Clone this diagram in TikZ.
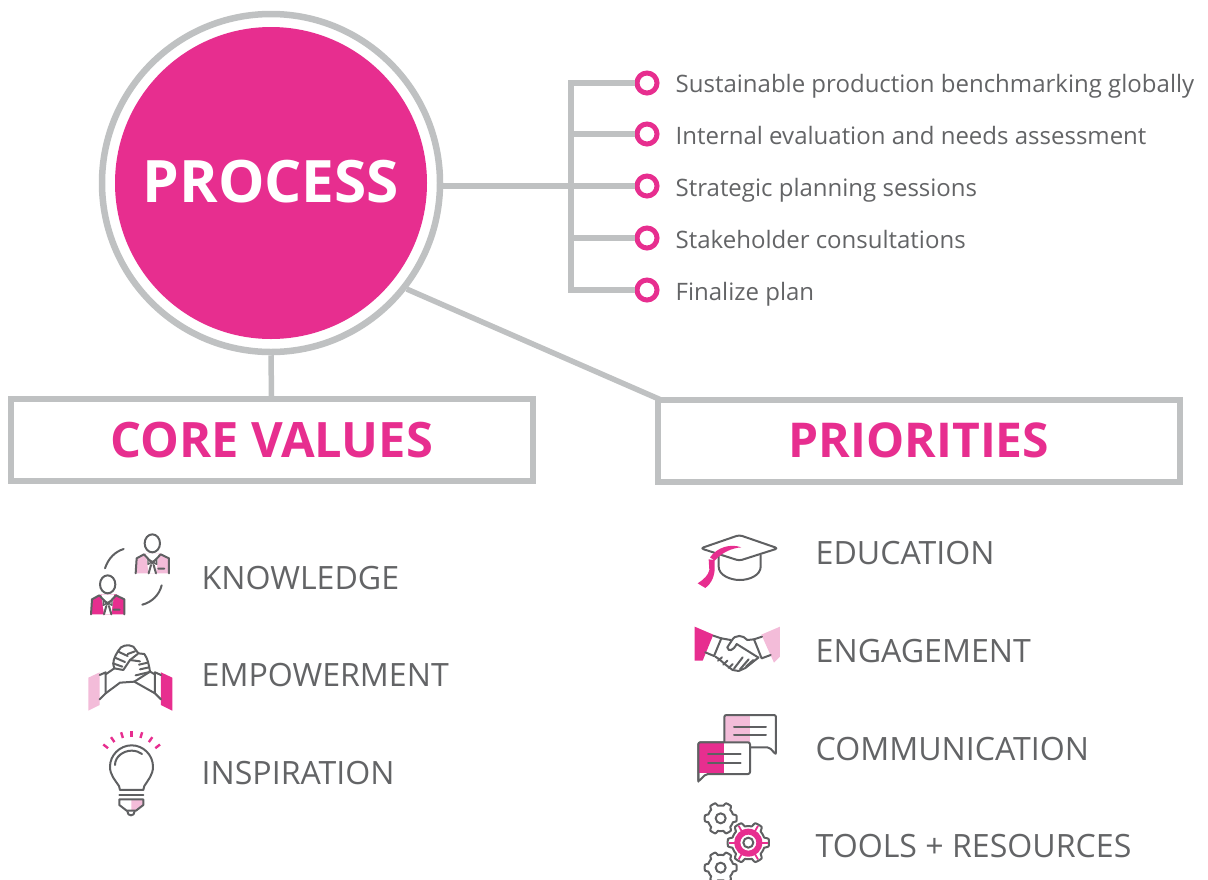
\documentclass[tikz,border=0pt]{standalone}
\usepackage{fontspec}
\usepackage{xcolor}
\setmainfont{Open Sans}
\usetikzlibrary{calc}
\definecolor{procpink}{HTML}{E72E8F}
\definecolor{softpink}{HTML}{F3BCD9}
\definecolor{linegray}{HTML}{BFC1C2}
\definecolor{textgray}{HTML}{636466}
\definecolor{icongray}{HTML}{5F6062}
\pgfmathdeclarefunction{gearrad}{1}{\pgfmathparse{0.8+0.2*min(1,max(0,1.4*cos(6*#1)+0.4))}}
\tikzset{
  link/.style={linegray,line width=5.5pt},
  dotmark/.style={circle,draw=procpink,line width=5pt,fill=white,minimum size=20pt,inner sep=0pt},
  stepname/.style={anchor=base west,text=textgray,inner sep=0pt,font=\fontsize{24}{28}\selectfont},
  valuename/.style={anchor=base west,text=textgray,inner sep=0pt,font=\fontsize{32.1}{38}\selectfont},
  headbox/.style={draw=linegray,line width=6pt,fill=white,text=procpink,minimum width=522pt,minimum height=82pt,inner sep=0pt,font=\fontsize{48}{56}\selectfont\bfseries},
  icon/.style={icongray,line width=2pt,line join=round,line cap=round},
  iconzone/.style={shift={#1},x=0.3333pt,y=-0.3333pt},
  pics/worker/.style={code={
    \fill[#1] (197,160) -- (200,115) -- (228,100) -- (272,100) -- (297,115) -- (297,160) -- cycle;
    \fill[white] (228,100) -- (266,100) -- (258,160) -- (236,160) -- cycle;
    \draw[icon] (247,70) ellipse (23 and 27);
    \draw[icon] (197,160) -- (200,115) -- (222,103) -- (247,130) -- (272,103) -- (297,115) -- (297,160);
    \draw[icon,line width=1.4pt] (234,117) -- (260,133) -- (260,117) -- (234,133) -- cycle;
    \draw[icon] (236,160) -- (243,135) (258,160) -- (251,135) (265,146) -- (283,146);
  }},
}
\begin{document}
\begin{tikzpicture}[x=1pt,y=-1pt]
  \useasboundingbox (0,0) rectangle (1208,879);

  \node[circle,draw=linegray,line width=6.5pt,fill=white,minimum size=338pt,inner sep=0pt] (processring) at (271,183) {};
  \node[circle,fill=procpink,text=white,minimum size=312pt,inner sep=0pt,font=\fontsize{58.5}{70}\selectfont\bfseries] (processcore) at (271,183) {\raisebox{3pt}{PROCESS}};

  \node[headbox,font=\fontsize{48.8}{56}\selectfont\bfseries] (corevalues) at (271.5,440) {\raisebox{-2pt}{CORE VALUES}};
  \node[headbox] (priorities) at (919,440.5) {\raisebox{-1pt}{PRIORITIES}};
  \draw[link] (processring.south) -- (corevalues.north);
  \draw[link] (processring.-38) -- ($(priorities.north west)+(5,3)$);

  % list on the right
  \coordinate (spine) at (571,183);
  \foreach \name/\ypos in {stepa/83,stepb/134,stepc/186,stepd/238,stepe/290}
    \node[dotmark] (\name) at (647,\ypos) {};
  \draw[link] (stepa.west) -- (stepa -| spine) -- (stepe -| spine) -- (stepe.west);
  \draw[link] (stepb.west) -- (stepb -| spine);
  \draw[link] (stepd.west) -- (stepd -| spine);
  \draw[link] (stepc.west) -- (stepc -| processring.east);
  \node[stepname] (stepatext) at (675.5,92) {Sustainable production benchmarking globally};
  \node[stepname] (stepbtext) at (675.5,144) {Internal evaluation and needs assessment};
  \node[stepname] (stepctext) at (675.5,196) {Strategic planning sessions};
  \node[stepname] (stepdtext) at (675.5,248) {Stakeholder consultations};
  \node[stepname] (stepetext) at (675.5,300) {Finalize plan};

  \node[valuename] (knowledge) at (201.5,589) {KNOWLEDGE};
  \node[valuename] (empowerment) at (201.5,686) {EMPOWERMENT};
  \node[valuename] (inspiration) at (201.5,784) {INSPIRATION};
  \node[valuename] (education) at (815.5,564) {EDUCATION};
  \node[valuename] (engagement) at (815.5,662) {ENGAGEMENT};
  \node[valuename] (communication) at (815.5,760) {COMMUNICATION};
  \node[valuename] (tools) at (815.5,857) {TOOLS + RESOURCES};

  % people
  \begin{scope}[iconzone={(70,520)}]
    \pic at (0,0) {worker=softpink};
    \pic at (-134,123) {worker=procpink};
    \draw[icon] (105,145) .. controls (115,115) and (135,95) .. (161,87);
    \draw[icon] (275,196) .. controls (268,225) and (245,247) .. (217,254);
  \end{scope}

  % arms
  \begin{scope}[iconzone={(85,640)}]
    \fill[softpink] (10,113) -- (44,97) -- (44,195) -- (10,212) -- cycle;
    \fill[procpink] (228,97) -- (262,113) -- (262,212) -- (228,195) -- cycle;
    \draw[icon] (44,105) -- (62,97) -- (62,160) -- (44,178);
    \draw[icon] (228,105) -- (210,97) -- (210,160) -- (228,178);
    \draw[icon] (62,103) -- (88,85) .. controls (80,70) and (88,50) .. (100,32) .. controls (108,15) and (130,12) .. (145,20) -- (160,40) -- (178,42) .. controls (188,55) and (192,75) .. (195,95) -- (210,103);
    \draw[icon] (62,160) -- (105,128) -- (148,125) -- (210,160);
    \draw[icon] (148,125) -- (195,95);
    \draw[icon] (88,85) -- (115,90) -- (135,60) -- (158,42);
    \draw[icon] (84,70) -- (112,80) (90,53) -- (120,66) (100,35) -- (128,48) (128,42) -- (150,34);
    \draw[icon] (135,60) -- (165,64) (162,74) -- (188,68) (165,88) -- (192,82) (152,106) -- (194,96);
  \end{scope}

  % bulb
  \begin{scope}[iconzone={(70,630)}]
    \foreach \ang in {-142,-125,-107,-90,-73,-55,-38}
      \draw[procpink,line width=2.4pt] ($(185,410)+(\ang:90)$) -- ($(185,410)+(\ang:108)$);
    \fill[softpink] (184,508) -- (219,508) -- (219,524) -- (196,541) -- (184,541) -- cycle;
    \draw[icon] (150,480) -- (147,468) .. controls (135,450) and (120,435) .. (120,410) .. controls (120,375) and (150,346) .. (185,346) .. controls (220,346) and (249,375) .. (249,410) .. controls (249,435) and (234,450) .. (223,468) -- (220,480) -- cycle;
    \draw[icon] (135,405) .. controls (135,380) and (160,362) .. (185,362) .. controls (198,362) and (208,366) .. (216,372);
    \draw[icon] (148,494) -- (220,494);
    \draw[icon] (148,508) -- (220,508) -- (220,525) -- (198,542) -- (170,542) -- (148,525) -- cycle;
    \draw[icon] (172,544) .. controls (172,560) and (194,560) .. (194,544);
  \end{scope}

  % cap
  \begin{scope}[iconzone={(680,520)}]
    \draw[icon] (116,108) -- (116,140) .. controls (116,165) and (150,180) .. (179,180) .. controls (210,180) and (242,165) .. (242,140) -- (242,106);
    \draw[icon,fill=white,rounded corners=3pt] (178,45) -- (294,85) -- (178,122) -- (62,85) -- cycle;
    \fill[procpink] (184,82) .. controls (150,70) and (112,82) .. (90,112) -- (104,122) .. controls (125,98) and (155,84) .. cycle;
    \fill[procpink] (86,118) -- (104,120) -- (104,150) .. controls (102,175) and (90,195) .. (76,204) -- (53,190) .. controls (72,178) and (85,165) .. (88,150) -- cycle;
  \end{scope}

  % handshake
  \begin{scope}[iconzone={(690,620)}]
    \fill[procpink] (14,20) -- (70,44) -- (38,122) -- (14,122) -- cycle;
    \fill[softpink] (214,44) -- (270,20) -- (270,110) -- (252,128) -- cycle;
    \draw[icon] (70,47) -- (94,55) -- (72,108) -- (46,97);
    \draw[icon] (216,50) -- (192,58) -- (215,115) -- (242,105);
    \draw[icon] (94,55) -- (122,60);
    \draw[icon] (192,58) -- (172,60) .. controls (160,45) and (135,42) .. (125,62) -- (112,82) .. controls (115,97) and (130,92) .. (140,72) -- (204,112);
    \draw[icon] (76,110) -- (88,118) -- (108,135) -- (128,150) -- (146,153) -- (166,144) -- (206,112);
    \draw[icon] (84,122) -- (96,112) (100,134) -- (112,122) (116,144) -- (128,132);
    \draw[icon] (132,146) -- (158,112) (150,148) -- (176,118) (168,140) -- (190,120);
  \end{scope}

  % speech bubbles
  \begin{scope}[iconzone={(680,700)}]
    \fill[softpink] (135,47) rectangle (210,128);
    \draw[icon,rounded corners=2pt] (133,128) -- (133,45) -- (288,45) -- (288,164) -- (268,142) -- (210,142);
    \draw[icon] (162,80) -- (258,80) (162,106) -- (258,106);
    \draw[icon,fill=white,rounded corners=2pt] (55,245) -- (55,127) -- (210,127) -- (210,222) -- (78,222) -- cycle;
    \fill[procpink] (57,129) rectangle (132,220);
    \draw[icon] (84,161) -- (182,161) (84,188) -- (182,188);
    \draw[icon,rounded corners=2pt] (55,245) -- (55,127) -- (132,127);
  \end{scope}

  % gears
  \begin{scope}[iconzone={(680,700)}]
    \foreach \cx/\cy in {122/355,122/503}{
      \draw[icon,shift={(\cx,\cy)}] plot[samples=145,domain=0:360] (\x:{48*gearrad(\x)}) -- cycle;
      \draw[icon] (\cx,\cy) circle (15);
    }
    \begin{scope}[shift={(205,428)}]
      \draw[icon] plot[samples=145,domain=0:360] (\x:{62*gearrad(\x)}) -- cycle;
      \fill[procpink,even odd rule] (0,0) circle (42) (0,0) circle (24);
      \foreach \ang in {0,60,...,300}
        \draw[procpink,line width=1.8pt] (\ang:40) -- (\ang:58);
      \draw[icon] (0,0) circle (15);
    \end{scope}
  \end{scope}
\end{tikzpicture}
\end{document}
